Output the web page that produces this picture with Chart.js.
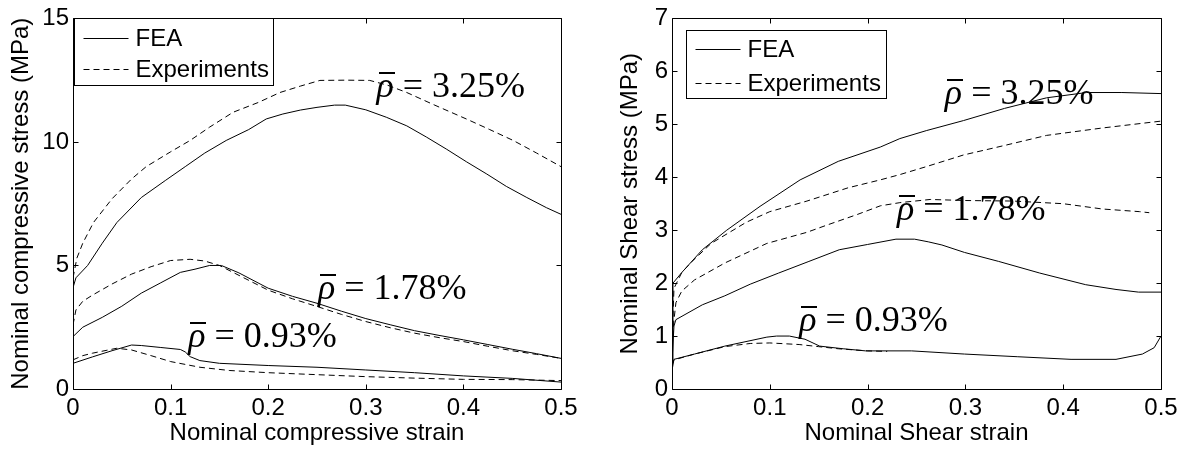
<!DOCTYPE html>
<html>
<head>
<meta charset="utf-8">
<script src="https://cdn.jsdelivr.net/npm/chart.js@4.4.0/dist/chart.umd.min.js"></script>
<style>
  body { margin: 0; background: #fff; }
  canvas { position: absolute; top: 0; }
</style>
</head>
<body>
<canvas id="compChart" width="597" height="450" style="left:0"></canvas>
<canvas id="shearChart" width="597" height="450" style="left:597px"></canvas>
<script>
// ---- tick labels ----
const strainTicks = [0, 0.1, 0.2, 0.3, 0.4, 0.5];
const compStressTicks = [0, 5, 10, 15];
const shearStressTicks = [0, 1, 2, 3, 4, 5, 6, 7];

// ---- compression: rho = 3.25% ----
const compFea325X = [0, 0.003, 0.015, 0.03, 0.045, 0.07, 0.095, 0.115, 0.135, 0.157, 0.18, 0.198, 0.215, 0.233, 0.25, 0.268, 0.279, 0.3, 0.321, 0.342, 0.362, 0.383, 0.403, 0.424, 0.444, 0.465, 0.485, 0.5];
const compFea325Y = [4.1, 4.5, 5.0, 5.9, 6.74, 7.75, 8.45, 9.0, 9.55, 10.06, 10.5, 10.93, 11.13, 11.29, 11.4, 11.49, 11.49, 11.3, 11.0, 10.65, 10.2, 9.7, 9.2, 8.7, 8.2, 7.75, 7.34, 7.07];
const compExp325X = [0, 0.004, 0.01, 0.021, 0.04, 0.06, 0.075, 0.1, 0.12, 0.14, 0.164, 0.19, 0.212, 0.233, 0.253, 0.28, 0.304, 0.322, 0.342, 0.37, 0.403, 0.427, 0.451, 0.475, 0.5];
const compExp325Y = [4.5, 5.3, 5.9, 6.74, 7.7, 8.5, 9.0, 9.6, 10.06, 10.6, 11.2, 11.6, 12.0, 12.26, 12.49, 12.5, 12.49, 12.3, 12.0, 11.5, 10.93, 10.5, 10.06, 9.55, 9.0];
// ---- compression: rho = 1.78% ----
const compFea178X = [0, 0.01, 0.03, 0.05, 0.07, 0.09, 0.11, 0.125, 0.14, 0.152, 0.17, 0.2, 0.225, 0.25, 0.275, 0.3, 0.325, 0.35, 0.375, 0.4, 0.425, 0.45, 0.475, 0.5];
const compFea178Y = [2.12, 2.5, 2.9, 3.35, 3.88, 4.3, 4.72, 4.85, 5.0, 5.0, 4.7, 4.08, 3.75, 3.47, 3.15, 2.85, 2.6, 2.36, 2.17, 1.99, 1.8, 1.61, 1.43, 1.24];
const compExp178X = [0, 0.003, 0.01, 0.02, 0.04, 0.06, 0.08, 0.1, 0.12, 0.135, 0.15, 0.175, 0.2, 0.225, 0.25, 0.275, 0.3, 0.325, 0.35, 0.375, 0.4, 0.425, 0.45, 0.475, 0.5];
const compExp178Y = [2.6, 3.2, 3.55, 3.8, 4.25, 4.65, 4.95, 5.2, 5.25, 5.18, 5.0, 4.5, 4.0, 3.65, 3.34, 3.02, 2.73, 2.48, 2.26, 2.08, 1.92, 1.73, 1.55, 1.4, 1.24];
// ---- compression: rho = 0.93% ----
const compFea093X = [0, 0.02, 0.04, 0.06, 0.07, 0.09, 0.11, 0.115, 0.12, 0.13, 0.15, 0.2, 0.25, 0.3, 0.35, 0.4, 0.45, 0.5];
const compFea093Y = [1.04, 1.3, 1.55, 1.78, 1.76, 1.68, 1.6, 1.5, 1.31, 1.15, 1.04, 0.95, 0.88, 0.77, 0.66, 0.53, 0.43, 0.28];
const compExp093X = [0, 0.01, 0.02, 0.045, 0.06, 0.08, 0.1, 0.13, 0.16, 0.2, 0.25, 0.3, 0.35, 0.4, 0.45, 0.5];
const compExp093Y = [1.18, 1.35, 1.45, 1.65, 1.58, 1.35, 1.11, 0.88, 0.75, 0.66, 0.58, 0.5, 0.44, 0.39, 0.38, 0.34];

// ---- shear: rho = 3.25% ----
const shearFea325X = [0, 0.001, 0.01, 0.031, 0.056, 0.09, 0.131, 0.17, 0.213, 0.233, 0.26, 0.298, 0.34, 0.383, 0.424, 0.46, 0.5];
const shearFea325Y = [0.5, 2.0, 2.2, 2.63, 3.0, 3.45, 3.95, 4.3, 4.57, 4.73, 4.88, 5.07, 5.3, 5.5, 5.6, 5.6, 5.58];
const shearExp325X = [0, 0.002, 0.01, 0.02, 0.04, 0.076, 0.1, 0.138, 0.18, 0.213, 0.233, 0.26, 0.298, 0.34, 0.383, 0.44, 0.5];
const shearExp325Y = [0.8, 1.9, 2.2, 2.4, 2.75, 3.15, 3.35, 3.55, 3.8, 3.95, 4.05, 4.2, 4.42, 4.6, 4.79, 4.93, 5.06];
// ---- shear: rho = 1.78% ----
const shearFea178X = [0, 0.002, 0.004, 0.031, 0.054, 0.08, 0.109, 0.14, 0.171, 0.2, 0.229, 0.248, 0.262, 0.276, 0.299, 0.334, 0.376, 0.423, 0.454, 0.477, 0.5];
const shearFea178Y = [0.5, 1.19, 1.31, 1.59, 1.76, 1.98, 2.19, 2.41, 2.63, 2.73, 2.83, 2.83, 2.78, 2.72, 2.58, 2.41, 2.19, 1.97, 1.88, 1.83, 1.83];
const shearExp178X = [0, 0.002, 0.004, 0.01, 0.023, 0.054, 0.097, 0.138, 0.159, 0.19, 0.213, 0.233, 0.264, 0.3, 0.349, 0.4, 0.44, 0.478, 0.488];
const shearExp178Y = [0.8, 1.3, 1.63, 1.85, 2.06, 2.38, 2.75, 2.96, 3.1, 3.3, 3.46, 3.52, 3.58, 3.56, 3.55, 3.5, 3.4, 3.35, 3.33];
// ---- shear: rho = 0.93% ----
const shearFea093X = [0, 0.002, 0.023, 0.054, 0.097, 0.107, 0.12, 0.136, 0.151, 0.175, 0.198, 0.245, 0.299, 0.353, 0.408, 0.454, 0.481, 0.493, 0.5];
const shearFea093Y = [0.35, 0.56, 0.66, 0.81, 0.98, 1.0, 1.0, 0.94, 0.81, 0.76, 0.72, 0.72, 0.66, 0.61, 0.56, 0.56, 0.66, 0.78, 1.0];
const shearExp093X = [0, 0.002, 0.023, 0.054, 0.08, 0.1, 0.13, 0.15, 0.17, 0.2, 0.22];
const shearExp093Y = [0.45, 0.55, 0.66, 0.8, 0.86, 0.87, 0.84, 0.8, 0.76, 0.72, 0.71];

// ---- curve labels: [text, x, y (baseline)] ----
const compLabels = [['3.25%', 0.311, 11.8], ['1.78%', 0.251, 3.63], ['0.93%', 0.118, 1.68]];
const shearLabels = [['3.25%', 0.279, 5.38], ['1.78%', 0.23, 3.2], ['0.93%', 0.13, 1.1]];

const AXIS_FONT = 24;
Chart.defaults.font.family = '"Liberation Sans", Arial, sans-serif';
Chart.defaults.color = '#000';

const zip = (xs, ys) => xs.map((x, i) => ({ x, y: ys[i] }));

function line(xs, ys, dashed) {
  return {
    data: zip(xs, ys),
    borderColor: '#000',
    borderWidth: 1,
    borderDash: dashed ? [6, 4] : [],
    pointRadius: 0,
    tension: 0,
    fill: false
  };
}

// box round the plot with inward ticks, like the original figure
const framePlugin = {
  id: 'frame',
  afterDraw(chart) {
    const { ctx, chartArea: a, scales } = chart;
    const L = Math.round(a.left) + 0.5, R = Math.round(a.right) + 0.5;
    const T = Math.round(a.top) + 0.5, B = Math.round(a.bottom) + 0.5;
    ctx.save();
    ctx.strokeStyle = '#000';
    ctx.lineWidth = 1;
    ctx.beginPath();
    ctx.rect(L, T, R - L, B - T);
    scales.x.ticks.forEach((t) => {
      const px = Math.round(scales.x.getPixelForValue(t.value)) + 0.5;
      ctx.moveTo(px, B); ctx.lineTo(px, B - 5);
      ctx.moveTo(px, T); ctx.lineTo(px, T + 5);
    });
    scales.y.ticks.forEach((t) => {
      const py = Math.round(scales.y.getPixelForValue(t.value)) + 0.5;
      ctx.moveTo(L, py); ctx.lineTo(L + 5, py);
      ctx.moveTo(R, py); ctx.lineTo(R - 5, py);
    });
    ctx.stroke();
    ctx.restore();
  }
};

const legendPlugin = {
  id: 'boxLegend',
  afterDraw(chart, args, opts) {
    const { ctx, chartArea: a } = chart;
    const x0 = Math.round(a.left + opts.dx) + 0.5, y0 = Math.round(a.top + opts.dy) + 0.5;
    ctx.save();
    ctx.fillStyle = '#fff';
    ctx.fillRect(x0, y0, opts.w, opts.h);
    ctx.strokeStyle = '#000';
    ctx.lineWidth = 1;
    ctx.strokeRect(x0, y0, opts.w, opts.h);
    ctx.font = AXIS_FONT + 'px "Liberation Sans", Arial, sans-serif';
    ctx.textBaseline = 'middle';
    ctx.fillStyle = '#000';
    ['FEA', 'Experiments'].forEach((name, i) => {
      const yy = Math.round(y0 + opts.rows[i]) + 0.5;
      ctx.setLineDash(i ? [6, 4] : []);
      ctx.beginPath();
      ctx.moveTo(x0 + 9, yy); ctx.lineTo(x0 + 54, yy);
      ctx.stroke();
      ctx.fillText(name, x0 + 61, yy + 1);
    });
    ctx.restore();
  }
};

const rhoPlugin = {
  id: 'rhoLabels',
  afterDatasetsDraw(chart, args, opts) {
    const { ctx, scales } = chart;
    ctx.save();
    ctx.fillStyle = '#000';
    ctx.textBaseline = 'alphabetic';
    opts.labels.forEach(([val, vx, vy]) => {
      const px = scales.x.getPixelForValue(vx);
      const py = scales.y.getPixelForValue(vy);
      ctx.font = 'italic 36px "Liberation Serif", "Times New Roman", serif';
      const rw = ctx.measureText('ρ').width;
      ctx.fillText('ρ', px, py);
      ctx.fillRect(Math.round(px + 2), Math.round(py - 25), Math.round(rw - 1), 2);
      ctx.font = '36px "Liberation Serif", "Times New Roman", serif';
      ctx.fillText(' = ' + val, px + rw, py);
    });
    ctx.restore();
  }
};

function makeScales(yTicks, yMax, yTitle, xTitle, yTitlePad, yWidth) {
  return {
    x: {
      type: 'linear', min: 0, max: 0.5,
      afterBuildTicks: (s) => { s.ticks = strainTicks.map((v) => ({ value: v })); },
      afterFit: (s) => { s.height = 61; },
      grid: { display: false, drawTicks: false },
      border: { display: false },
      ticks: { padding: 5, font: { size: AXIS_FONT }, maxRotation: 0, autoSkip: false, callback: (v) => String(v) },
      title: { display: true, text: xTitle, font: { size: AXIS_FONT }, padding: { top: 0, bottom: 2 } }
    },
    y: {
      type: 'linear', min: 0, max: yMax,
      afterBuildTicks: (s) => { s.ticks = yTicks.map((v) => ({ value: v })); },
      afterFit: (s) => { s.width = yWidth; },
      grid: { display: false, drawTicks: false },
      border: { display: false },
      ticks: { padding: 4, font: { size: AXIS_FONT }, autoSkip: false, callback: (v) => String(v) },
      title: { display: true, text: yTitle, font: { size: AXIS_FONT }, padding: { top: yTitlePad, bottom: 0 } }
    }
  };
}

function makeChart(id, sets, scales, padRight, legendOpts, labels) {
  return new Chart(document.getElementById(id), {
    type: 'line',
    data: { datasets: sets },
    options: {
      responsive: false,
      animation: false,
      devicePixelRatio: 1,
      layout: { padding: { left: 0, top: 13, right: padRight, bottom: 0 } },
      scales,
      plugins: {
        legend: { display: false },
        tooltip: { enabled: false },
        boxLegend: legendOpts,
        rhoLabels: { labels }
      }
    },
    plugins: [rhoPlugin, framePlugin, legendPlugin]
  });
}

makeChart('compChart', [
  line(compFea325X, compFea325Y, false), line(compExp325X, compExp325Y, true),
  line(compFea178X, compFea178Y, false), line(compExp178X, compExp178Y, true),
  line(compFea093X, compFea093Y, false), line(compExp093X, compExp093Y, true)
], makeScales(compStressTicks, 15, 'Nominal compressive stress (MPa)', 'Nominal compressive strain', 7, 73),
  36, { dx: 1, dy: 0, w: 199, h: 67, rows: [19, 50] }, compLabels);

makeChart('shearChart', [
  line(shearFea325X, shearFea325Y, false), line(shearExp325X, shearExp325Y, true),
  line(shearFea178X, shearFea178Y, false), line(shearExp178X, shearExp178Y, true),
  line(shearFea093X, shearFea093Y, false), line(shearExp093X, shearExp093Y, true)
], makeScales(shearStressTicks, 7, 'Nominal Shear stress (MPa)', 'Nominal Shear strain', 19, 75),
  33, { dx: 14, dy: 12, w: 200, h: 68, rows: [18, 52] }, shearLabels);
</script>
</body>
</html>
